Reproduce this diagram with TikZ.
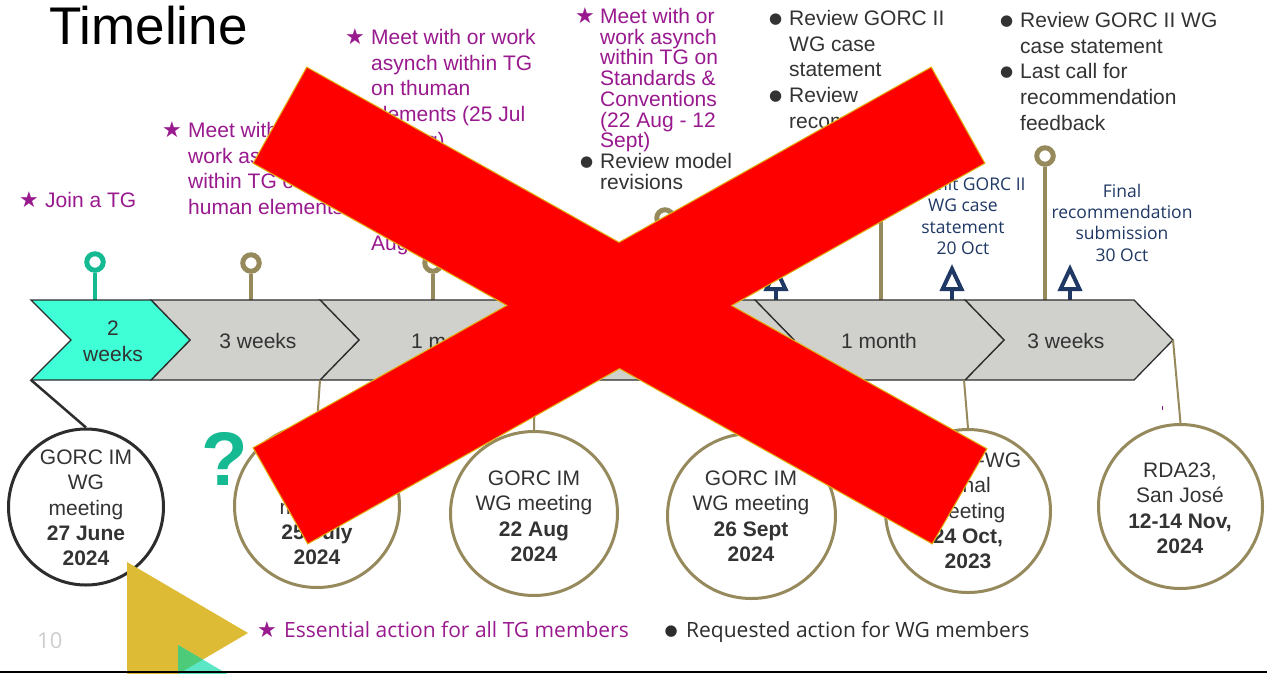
\documentclass[tikz,border=0pt]{standalone}
\usepackage{fontspec}
\setmainfont{Liberation Sans}
\newfontfamily\opensans{Open Sans}
\newfontfamily\dejavu{DejaVu Sans}
\usetikzlibrary{arrows.meta,shapes.geometric}
\definecolor{tlpurple}{RGB}{153,26,142}
\definecolor{tlgray}{RGB}{51,51,51}
\definecolor{tldark}{RGB}{45,45,45}
\definecolor{tlolive}{RGB}{150,137,92}
\definecolor{tlteal}{RGB}{22,186,146}
\definecolor{tlcyan}{RGB}{62,255,214}
\definecolor{tlchev}{RGB}{208,208,204}
\definecolor{tlnavy}{RGB}{31,56,100}
\definecolor{tlgold}{RGB}{221,187,52}
\definecolor{tlaqua}{RGB}{91,230,197}
\definecolor{tlgreen}{RGB}{77,203,121}
\definecolor{tlxedge}{RGB}{225,175,20}
\definecolor{tlred}{RGB}{255,0,0}
\definecolor{tlpage}{RGB}{205,205,205}
\newcommand{\tlstar}[1][26pt]{\leavevmode\llap{\makebox[#1][l]{\dejavu\fontsize{22}{22}\selectfont ★}}}
\newcommand{\tlbul}[1][13.5pt]{\leavevmode\llap{\makebox[0pt][c]{\raisebox{2pt}{\dejavu\fontsize{15}{15}\selectfont ●}}\hspace{#1}}}
\newcommand{\tll}[1]{\parbox[t]{330pt}{\raggedright #1}}
\newcommand{\tlc}[1]{\parbox[t]{240pt}{\centering #1}}
\begin{document}
\begin{tikzpicture}[x=1pt,y=-1pt,
  txt/.style={inner sep=0pt, anchor=base west},
  ctxt/.style={inner sep=0pt, anchor=base},
  purp/.style={font=\fontsize{21}{25.7}\selectfont, text=tlpurple},
  dgray/.style={font=\fontsize{21}{25.7}\selectfont, text=tlgray},
  navytxt/.style={ctxt, font=\opensans\fontsize{17.5}{21.4}\selectfont, text=tlnavy},
  chev/.style={draw=tldark, line width=1.3pt, fill=tlchev, line join=miter},
  meet/.style={ellipse, draw=tlolive, line width=3pt, fill=white, inner sep=0pt},
  meettxt/.style={ctxt, font=\fontsize{21}{25.3}\selectfont, text=tlgray},
  pinhead/.style={circle, draw=tlolive, line width=5pt, fill=white, minimum size=16.5pt, inner sep=0pt},
  pinstem/.style={draw=tlolive, line width=3.5pt},
  link/.style={draw=tlolive, line width=2pt},
  navyarrow/.style={draw=tlnavy, line width=4pt, -{Triangle[open, length=27pt, width=24pt]}},
  xbar/.style={draw=tlxedge, line width=2.4pt, line join=miter}
]
\useasboundingbox (0,0) rectangle (1267,673);
\clip (0,0) rectangle (1267,673);
\fill[white] (0,0) rectangle (1267,673);

% ---------- upper texts ----------
\node[txt, font=\fontsize{53}{60}\selectfont, text=black] (title) at (49,44.5) {Timeline};
\node[txt,purp] (tA) at (45,207.5) {\tll{\tlstar Join a TG}};
\node[txt,purp] (tB) at (188,137.5) {\tll{\tlstar Meet with or\\work asynch\\within TG on\\human elements}};
\node[txt,purp] (tC) at (371,44.5) {\tll{\tlstar Meet with or work\\asynch within TG\\on thuman\\elements (25 Jul\\22 Aug)}};
\node[txt,purp] (tC2) at (371,250.5) {Aug};
\node[txt,purp,font=\fontsize{21}{20.7}\selectfont] (tD) at (600,23.5) {\tll{\tlstar[25pt]Meet with or\\work asynch\\within TG on\\Standards \&\\Conventions\\(22 Aug - 12\\Sept)\\{\color{tlgray}\tlbul Review model\\revisions}}};
\node[txt,dgray] (tE) at (789,25.5) {\tll{\tlbul Review GORC II\\WG case\\statement\\\tlbul Review\\recommendation}};
\node[txt,dgray] (tF) at (1020,27.5) {\tll{\tlbul Review GORC II WG\\case statement\\\tlbul Last call for\\recommendation\\feedback}};
\node[navytxt] (nS) at (963,190.5) {\tlc{Submit GORC II\\WG case\\statement\\20 Oct}};
\node[navytxt] (nF) at (1122,197) {\tlc{Final\\recommendation\\submission\\30 Oct}};

% ---------- pins ----------
\coordinate (s1) at (95,300);
\coordinate (s2) at (251,300);
\coordinate (s3) at (433,300);
\coordinate (s4) at (665,300);
\coordinate (s5) at (881,300);
\coordinate (s6) at (1045,300);
\node[pinhead, draw=tlteal] (p1) at (95,262) {};
\node[pinhead] (p2) at (251,263) {};
\node[pinhead] (p3) at (433,263) {};
\node[pinhead] (p4) at (665,218) {};
\node[pinhead] (p5) at (881,160) {};
\node[pinhead] (p6) at (1045,156) {};
\draw[pinstem, draw=tlteal] (p1) -- (s1);
\draw[pinstem] (p2) -- (s2);
\draw[pinstem] (p3) -- (s3);
\draw[pinstem] (p4) -- (s4);
\draw[pinstem] (p5) -- (s5);
\draw[pinstem] (p6) -- (s6);

% ---------- navy arrows ----------
\coordinate (a1b) at (776,300); \coordinate (a1t) at (776,264);
\coordinate (a2b) at (952,300); \coordinate (a2t) at (952,264);
\coordinate (a3b) at (1070,300); \coordinate (a3t) at (1070,264);
\draw[navyarrow] (a1b) -- (a1t);
\draw[navyarrow] (a2b) -- (a2t);
\draw[navyarrow] (a3b) -- (a3t);

% ---------- chevrons ----------
\draw[chev] (965,300) -- (1134,300) -- (1173,340) -- (1134,380) -- (965,380) -- (1004,340) -- cycle;
\draw[chev] (755,300) -- (965,300) -- (1004,340) -- (965,380) -- (755,380) -- (794,340) -- cycle;
\draw[chev] (535,300) -- (755,300) -- (794,340) -- (755,380) -- (535,380) -- (574,340) -- cycle;
\draw[chev] (320,300) -- (535,300) -- (574,340) -- (535,380) -- (320,380) -- (359,340) -- cycle;
\draw[chev] (151,300) -- (320,300) -- (359,340) -- (320,380) -- (151,380) -- (190,340) -- cycle;
\draw[chev, fill=tlcyan] (31,300) -- (151,300) -- (190,340) -- (151,380) -- (31,380) -- (71,340) -- cycle;
\node[ctxt,dgray] (c1t) at (113,335.5) {\tlc{2\\weeks}};
\node[ctxt,dgray] (c2t) at (258,348.5) {3 weeks};
\node[ctxt,dgray] (c3t) at (449,348.5) {1 month};
\node[ctxt,dgray] (c5t) at (879,348.5) {1 month};
\node[ctxt,dgray] (c6t) at (1066,348.5) {3 weeks};

% ---------- meetings ----------
\coordinate (b1) at (31,380);
\coordinate (b2) at (320,380);
\coordinate (b3) at (535,380);
\coordinate (b4) at (755,380);
\coordinate (b5) at (964,380);
\coordinate (b6) at (1173,340);
\node[meet, draw=tldark, minimum width=155pt, minimum height=156pt] (m1) at (86,507) {};
\node[meet, minimum width=165pt, minimum height=163pt] (m2) at (317,506) {};
\node[meet, minimum width=167pt, minimum height=164pt] (m3) at (534,513.5) {};
\node[meet, minimum width=168pt, minimum height=165pt] (m4) at (751.5,516) {};
\node[meet, minimum width=165pt, minimum height=163pt] (m5) at (968,511) {};
\node[meet, minimum width=164pt, minimum height=164pt] (m6) at (1180.5,506.5) {};
\draw[link, draw=tldark, line width=2.5pt] (b1) -- (m1.north);
\draw[link] (b2) -- (m2.north);
\draw[link] (b3) -- (m3.north);
\draw[link] (b4) -- (m4.north);
\draw[link] (b5) -- (m5.north);
\draw[link] (b6) -- (m6.north);
\node[meettxt] (m1t) at (86,464.5) {\tlc{GORC IM\\WG\\meeting\\\textbf{27 June}\\\textbf{2024}}};
\node[meettxt] (m2t) at (317,463.5) {\tlc{GORC IM\\WG\\meeting\\\textbf{25 July}\\\textbf{2024}}};
\node[meettxt] (m3t) at (534,485.5) {\tlc{GORC IM\\WG meeting\\\textbf{22 Aug}\\\textbf{2024}}};
\node[meettxt] (m4t) at (751,485.5) {\tlc{GORC IM\\WG meeting\\\textbf{26 Sept}\\\textbf{2024}}};
\node[meettxt] (m5t) at (968,467.5) {\tlc{GORC-WG\\Final\\meeting\\\textbf{24 Oct,}\\\textbf{2023}}};
\node[meettxt] (m6t) at (1180,477.5) {\tlc{RDA23,\\San José\\\textbf{12-14 Nov,}\\\textbf{2024}}};
\node[inner sep=0pt, font=\bfseries\fontsize{76}{80}\selectfont, text=tlteal] (q) at (225,459) {?};
\fill[tlpurple] (1161.5,406) rectangle (1162.7,410);

% ---------- legend and page ----------
\node[txt, font=\opensans\fontsize{21}{25}\selectfont, text=tlpurple] (lg1) at (284,637) {\tlstar[27pt]Essential action for all TG members};
\node[txt, font=\opensans\fontsize{21}{25}\selectfont, text=tldark] (lg2) at (686,637) {\tlbul[15pt]Requested action for WG members};
\node[txt, font=\opensans\fontsize{22}{26}\selectfont, text=tlpage] (pg) at (37,648) {10};

% ---------- decorative triangles ----------
\fill[tlgold] (127,562) -- (248,633) -- (127,704) -- cycle;
\fill[tlaqua] (178,645) -- (299,716) -- (178,787) -- cycle;
\begin{scope}
  \clip (127,562) -- (248,633) -- (127,704) -- cycle;
  \fill[tlgreen] (178,645) -- (299,716) -- (178,787) -- cycle;
\end{scope}
\draw[line width=2pt, black] (0,672) -- (1267,672);

% ---------- red cross ----------
\draw[xbar] (307,68) -- (986,449) -- (932,543) -- (254,163) -- cycle
            (254,448) -- (931,68) -- (984,163) -- (308,543) -- cycle;
\fill[tlred] (307,68) -- (986,449) -- (932,543) -- (254,163) -- cycle
             (254,448) -- (931,68) -- (984,163) -- (308,543) -- cycle;
\end{tikzpicture}
\end{document}
